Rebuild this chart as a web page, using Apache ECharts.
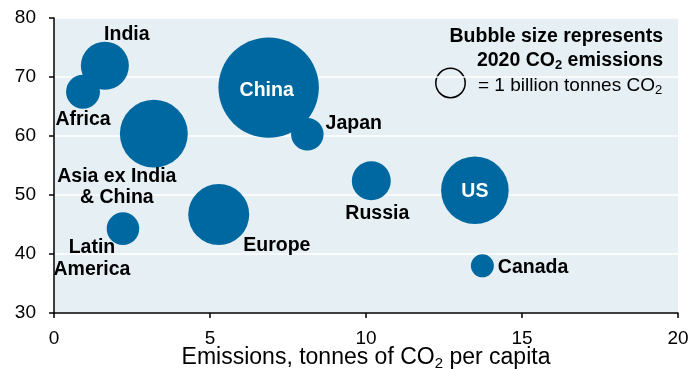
<!DOCTYPE html>
<html><head><meta charset="utf-8">
<script src="https://cdn.jsdelivr.net/npm/echarts@6/dist/echarts.min.js"></script>
<style>html,body{margin:0;padding:0;background:#fff}#c{width:690px;height:369px}</style>
</head><body><div id="c"></div>
<script>
const regions = ['India','Africa','Asia ex India\n& China','China','Japan','Latin\nAmerica','Europe','Russia','US','Canada'];
const perCapita = [1.63, 0.93, 3.2, 6.88, 8.12, 2.21, 5.28, 10.17, 13.49, 13.73];
const yValues = [71.9, 67.5, 60.4, 68.2, 60.3, 44.3, 46.7, 52.4, 50.8, 38.0];
const emissions = [2.4, 1.2, 4.8, 10.5, 1.1, 1.1, 3.87, 1.58, 4.75, 0.55];
const xTicks = [0, 5, 10, 15, 20];
const yTicks = [30, 40, 50, 60, 70, 80];

const R1 = 15.5; // radius in px for 1 billion tonnes
const sizeOf = v => 2 * R1 * Math.sqrt(v);

const FONT = '"Liberation Sans", Arial, sans-serif';
const LBL = 19.5;
const labelStyles = {
  'India': {position: 'inside', offset: [22, -31]},
  'Africa': {position: 'inside', offset: [0, 28]},
  'Asia ex India\n& China': {position: 'inside', offset: [-37, 53], lineHeight: 21},
  'China': {position: 'inside', offset: [-2, 3], color: '#fff'},
  'Japan': {position: 'right', distance: 2, offset: [0, -11]},
  'Latin\nAmerica': {position: 'inside', offset: [-31, 30], lineHeight: 22},
  'Europe': {position: 'inside', align: 'left', offset: [24.5, 31.5]},
  'Russia': {position: 'inside', offset: [6, 33]},
  'US': {position: 'inside', offset: [0, 1], color: '#fff'},
  'Canada': {position: 'right', distance: 4, offset: [0, 2]}
};

const data = regions.map((n, i) => ({
  name: n,
  value: [perCapita[i], yValues[i], emissions[i]],
  label: Object.assign({show: true, formatter: '{b}', color: '#000', fontWeight: 'bold', fontSize: LBL, fontFamily: FONT}, labelStyles[n])
}));

const chart = echarts.init(document.getElementById('c'), null, {renderer: 'canvas'});
chart.setOption({
  animation: false,
  grid: {left: 54, right: 12, top: 18, bottom: 56, show: true, backgroundColor: '#e6eff3', borderWidth: 0,
    containLabel: false, outerBoundsMode: 'none'},
  xAxis: {
    type: 'value', min: xTicks[0], max: xTicks[xTicks.length - 1], interval: 5,
    axisLine: {show: true, lineStyle: {color: '#000', width: 1.5}},
    axisTick: {show: true, length: 5, lineStyle: {color: '#000', width: 1.5}},
    axisLabel: {color: '#000', fontSize: 19, fontFamily: FONT, margin: 16},
    splitLine: {show: false},
    name: 'Emissions, tonnes of CO{sub|2} per capita',
    nameLocation: 'middle', nameGap: 32, nameMoveOverlap: false,
    nameTextStyle: {color: '#000', fontSize: 23, fontFamily: FONT, lineHeight: 26,
      rich: {sub: {fontSize: 15, fontFamily: FONT, color: '#000', verticalAlign: 'bottom', lineHeight: 15}}}
  },
  yAxis: {
    type: 'value', min: yTicks[0], max: yTicks[yTicks.length - 1], interval: 10,
    axisLine: {show: true, lineStyle: {color: '#000', width: 1.5}},
    axisTick: {show: true, length: 5, lineStyle: {color: '#000', width: 1.5}},
    axisLabel: {color: '#000', fontSize: 19, fontFamily: FONT, margin: 18},
    splitLine: {show: true, lineStyle: {color: '#fff', width: 1.5}}
  },
  series: [{
    type: 'scatter',
    data: data,
    symbolSize: d => sizeOf(d[2]),
    itemStyle: {color: '#0068a1', opacity: 1},
    emphasis: {disabled: true}
  }],
  graphic: [
    {type: 'text', right: 27, top: 27, style: {text: 'Bubble size represents', font: 'bold 19.5px ' + FONT, fill: '#000', textAlign: 'right'}},
    {type: 'text', right: 27, top: 49, style: {text: '2020 CO{sub|2} emissions', font: 'bold 19.5px ' + FONT, fill: '#000', lineHeight: 23,
      rich: {sub: {fontSize: 13, fontWeight: 'bold', fontFamily: FONT, verticalAlign: 'bottom', lineHeight: 13}}}},
    {type: 'circle', shape: {cx: 450.5, cy: 83, r: R1 - 0.8}, style: {fill: 'none', stroke: '#000', lineWidth: 1.5}},
    {type: 'text', left: 478, top: 74, style: {text: '= 1 billion tonnes CO{sub|2}', font: '19px ' + FONT, fill: '#000', lineHeight: 23,
      rich: {sub: {fontSize: 13, fontFamily: FONT, verticalAlign: 'bottom', lineHeight: 13}}}}
  ]
});
</script></body></html>
